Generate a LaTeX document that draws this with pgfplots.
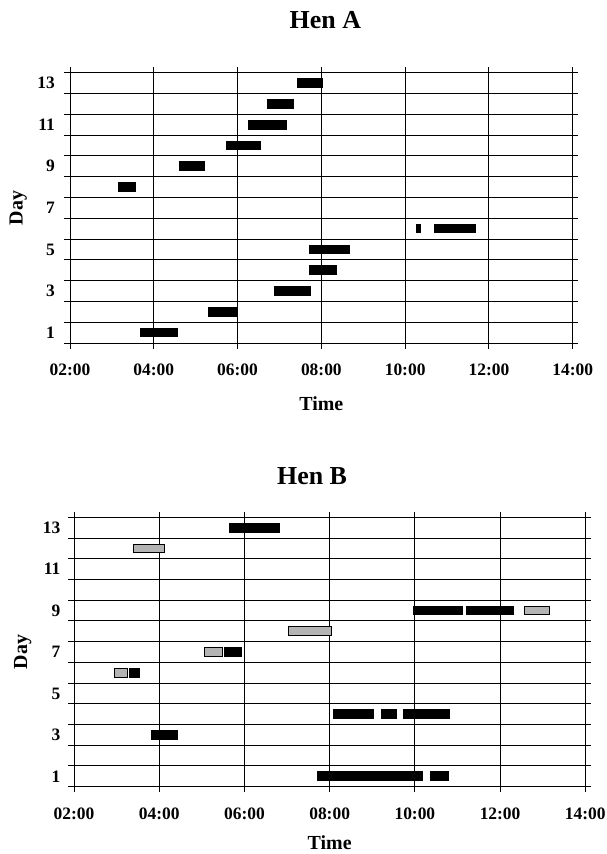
\documentclass[border=0pt]{standalone}
\usepackage{fontspec}
\setmainfont{Liberation Serif}
\usepackage{pgfplots}
\pgfplotsset{compat=1.18}
\usepackage{pgfplotstable}

\definecolor{barGray}{HTML}{B4B4B4}

% Hen A, one row per bout
\pgfplotstableread{
start end day
3.66 4.57 1
5.30 5.99 2
6.87 7.75 3
7.71 8.38 4
7.70 8.68 5
10.26 10.37 6
10.68 11.68 6
3.14 3.58 8
4.60 5.22 9
5.73 6.57 10
6.26 7.18 11
6.70 7.35 12
7.42 8.03 13
}\henAblack

% Hen B, black bouts
\pgfplotstableread{
start end day
7.71 10.18 1
10.36 10.79 1
3.80 4.43 3
8.09 9.04 4
9.20 9.57 4
9.73 10.82 4
3.30 3.56 6
5.51 5.95 7
9.95 11.13 9
11.19 12.32 9
5.63 6.83 13
}\henBblack

% Hen B, grey bouts
\pgfplotstableread{
start end day
2.94 3.27 6
5.05 5.50 7
7.02 8.06 8
12.57 13.17 9
3.38 4.14 12
}\henBgrey

\pgfplotsset{
  hen/.style={
    scale only axis,
    xmin=2, xmax=14, ymin=0.5, ymax=13.5,
    xtick={2,4,...,14},
    xticklabels={02:00,04:00,06:00,08:00,10:00,12:00,14:00},
    ytick={0.5,1.5,...,13.5}, yticklabels={},
    extra y ticks={1,3,...,13},
    extra y tick labels={1,3,5,7,9,11,13},
    extra y tick style={major tick length=0pt, grid=none},
    grid=major,
    major grid style={black, line width=1bp},
    axis line style={black, line width=1bp},
    tick style={black, line width=1bp},
    tick align=outside, major tick length=5.5bp,
    /pgf/number format/assume math mode=true,
    ticklabel style={font=\fontsize{17.5}{20}\selectfont\bfseries},
    xticklabel style={anchor=base, yshift=-27bp},
    yticklabel style={anchor=east, inner sep=0pt},
    xlabel={Time}, ylabel={Day},
    label style={font=\fontsize{20}{22}\selectfont\bfseries},
    xlabel style={at={(axis description cs:0.5,0)}, anchor=base},
    title style={at={(axis description cs:0.5,1)}, anchor=base,
      font=\fontsize{26}{30}\selectfont\bfseries},
  },
  bouts/.style={only marks, mark=none, mark size=0pt,
    error bars/.cd, x dir=both, x explicit, error mark=none,
    error bar style={line width=9.7bp, draw=black, line cap=butt}},
  greybouts/.style={only marks, mark=none, mark size=0pt,
    error bars/.cd, x dir=both, x explicit, error mark=none,
    error bar style={line width=7.7bp, draw=barGray, line cap=butt,
      shorten >=1bp}},
}

\begin{document}
\begin{tikzpicture}
\useasboundingbox (0,0) rectangle (607bp,-854bp);

\begin{axis}[hen,
  at={(70bp,-343bp)}, anchor=south west,
  width=502.7bp, height=270.3bp,
  title={Hen A},
  title style={yshift=38bp, xshift=4bp},
  xlabel style={yshift=-67bp},
  ylabel style={at={(axis description cs:-0.103,0.5)}, anchor=center},
  yticklabel style={xshift=-15bp},
]
% bar centre and half length from the start and end columns
\addplot[bouts] table[x expr=(\thisrow{start}+\thisrow{end})/2, y=day,
  x error expr=(\thisrow{end}-\thisrow{start})/2] {\henAblack};
\end{axis}

\begin{axis}[hen,
  at={(74bp,-786.7bp)}, anchor=south west,
  width=511.3bp, height=269.4bp,
  title={Hen B},
  title style={yshift=26.5bp, xshift=-17.6bp},
  xlabel style={yshift=-63bp},
  ylabel style={at={(axis description cs:-0.1,0.5)}, anchor=center},
  yticklabel style={xshift=-13.5bp},
]
\addplot[bouts] table[x expr=(\thisrow{start}+\thisrow{end})/2, y=day,
  x error expr=(\thisrow{end}-\thisrow{start})/2] {\henBblack};
\addplot[bouts] table[x expr=(\thisrow{start}+\thisrow{end})/2, y=day,
  x error expr=(\thisrow{end}-\thisrow{start})/2] {\henBgrey};
\addplot[greybouts] table[x expr=(\thisrow{start}+\thisrow{end})/2, y=day,
  x error expr=(\thisrow{end}-\thisrow{start})/2] {\henBgrey};
\end{axis}
\end{tikzpicture}
\end{document}
